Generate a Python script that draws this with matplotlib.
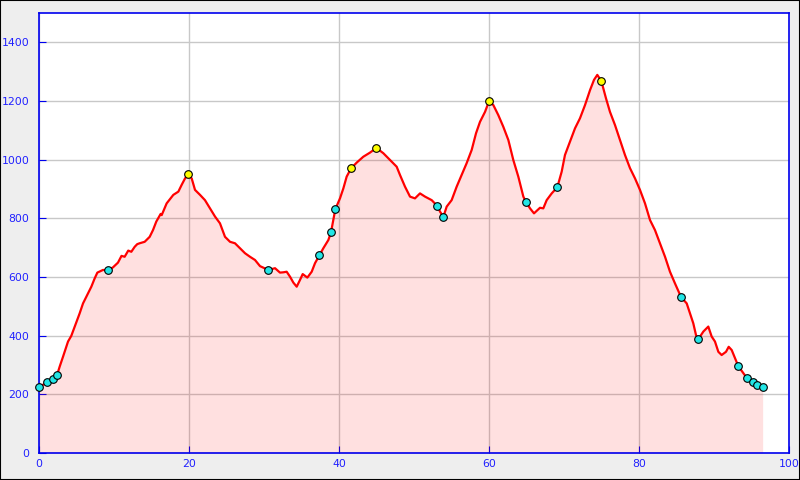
import matplotlib
matplotlib.use("Agg")
import matplotlib.pyplot as plt
from matplotlib.patches import Rectangle

# Elevation profile (distance km, elevation m)
dist = [0.0, 0.09, 1.1, 1.8, 2.4, 2.75, 3.2, 3.87, 4.3, 4.76, 5.42, 5.87, 6.44, 6.98, 7.42, 7.78,
        8.53, 9.24, 9.87, 10.53, 11.0, 11.42, 11.9, 12.31, 12.76, 13.1, 13.42, 14.09, 14.76, 15.2,
        15.64, 16.22, 16.36, 17.02, 17.91, 18.58, 19.02, 19.47, 19.91, 20.36, 20.8, 21.47, 22.13,
        22.8, 23.47, 24.13, 24.8, 25.47, 26.13, 26.8, 27.47, 28.13, 28.8, 29.47, 30.58, 31.47,
        32.13, 32.58, 33.02, 33.47, 33.91, 34.36, 34.8, 35.16, 35.78, 36.36, 36.8, 37.38, 37.91,
        38.58, 38.93, 39.24, 39.51, 40.13, 40.58, 41.02, 41.6, 42.36, 43.24, 44.13, 44.98, 45.91,
        46.8, 47.69, 48.13, 48.8, 49.47, 50.13, 50.8, 51.47, 52.36, 53.11, 53.47, 53.91, 54.36,
        55.02, 55.69, 56.36, 57.02, 57.69, 58.27, 58.8, 59.47, 60.0, 60.58, 61.24, 61.91, 62.58,
        63.24, 63.91, 64.58, 64.93, 65.47, 66.0, 66.8, 67.24, 67.69, 68.36, 69.11, 69.69, 70.13,
        70.8, 71.47, 72.13, 72.8, 73.47, 74.0, 74.44, 74.98, 75.6, 76.13, 76.8, 77.47, 78.13,
        78.8, 79.47, 80.13, 80.8, 81.47, 82.13, 82.8, 83.47, 84.13, 84.8, 85.6, 86.36, 86.8,
        87.24, 87.6, 87.91, 88.58, 89.24, 89.69, 90.13, 90.58, 91.02, 91.6, 91.96, 92.36, 92.8,
        93.24, 93.91, 94.4, 95.24, 95.78, 96.49]
elev = [224, 226, 241, 253, 265, 294, 328, 380, 399, 431, 476, 510, 539, 567, 595, 615,
        624, 623, 633, 649, 672, 669, 690, 686, 703, 712, 715, 720, 737, 760,
        789, 815, 811, 851, 880, 891, 914, 936, 950, 936, 897, 880, 862,
        834, 806, 783, 737, 720, 715, 698, 681, 669, 658, 637, 624, 630,
        615, 616, 618, 601, 581, 567, 590, 610, 598, 618, 647, 674, 698,
        726, 752, 794, 831, 868, 902, 942, 970, 990, 1010, 1024, 1040, 1022,
        999, 976, 948, 908, 874, 868, 885, 874, 862, 842, 823, 805, 840,
        862, 908, 948, 988, 1033, 1090, 1129, 1163, 1199, 1186, 1152, 1112, 1067,
        999, 942, 874, 856, 834, 817, 836, 834, 862, 885, 906, 959, 1016,
        1061, 1107, 1141, 1186, 1237, 1272, 1289, 1268, 1209, 1163, 1118, 1067, 1016,
        971, 936, 897, 851, 794, 760, 715, 669, 618, 578, 532, 510, 476,
        442, 402, 388, 414, 431, 397, 380, 345, 334, 345, 362, 351, 323,
        296, 272, 255, 242, 233, 224]

# Waypoint markers
cyan_x = [0.0, 1.1, 1.8, 2.4, 9.24, 30.58, 37.38, 38.93, 39.51, 53.11, 53.91, 64.93, 69.11,
          85.6, 87.91, 93.24, 94.4, 95.24, 95.78, 96.49]
cyan_y = [224, 241, 253, 265, 623, 624, 674, 752, 831, 842, 805, 856, 906,
          532, 388, 296, 255, 242, 233, 224]
yellow_x = [19.91, 41.6, 44.98, 60.0, 74.98]
yellow_y = [950, 970, 1040, 1199, 1268]

xticks = [0, 20, 40, 60, 80, 100]
yticks = [0, 200, 400, 600, 800, 1000, 1200, 1400]

fig = plt.figure(figsize=(8, 4.8), dpi=100, facecolor='#eeeeee')
ax = fig.add_axes([39/800, 27/480, 750/800, 440/480])
ax.set_facecolor('white')
ax.set_xlim(0, 100)
ax.set_ylim(0, 1500)
ax.set_xticks(xticks)
ax.set_yticks(yticks)
ax.grid(True, color='#c8c8c8', linewidth=1)
ax.set_axisbelow(True)
for s in ax.spines.values():
    s.set_color('#0000ee')
    s.set_linewidth(1.2)
ax.tick_params(direction='in', length=5, color='#0000ee', labelcolor='#2020ff', labelsize=7.8)
ax.tick_params(axis='y', pad=7)
ax.tick_params(axis='x', pad=4)

ax.fill_between(dist, elev, 0, color='red', alpha=0.12, linewidth=0, zorder=2)
ax.plot(dist, elev, color='red', linewidth=1.6, zorder=3)
ax.plot(cyan_x, cyan_y, 'o', color='#22e6e6', markeredgecolor='black', markeredgewidth=0.8,
        markersize=5.5, zorder=4, clip_on=False)
ax.plot(yellow_x, yellow_y, 'o', color='#ffff00', markeredgecolor='black', markeredgewidth=0.8,
        markersize=5.5, zorder=4, clip_on=False)

fig.patches.append(Rectangle((0, 0), 1, 1, transform=fig.transFigure, fill=False,
                             edgecolor='black', linewidth=1.5))
fig.savefig('out.png', dpi=100, facecolor=fig.get_facecolor())
